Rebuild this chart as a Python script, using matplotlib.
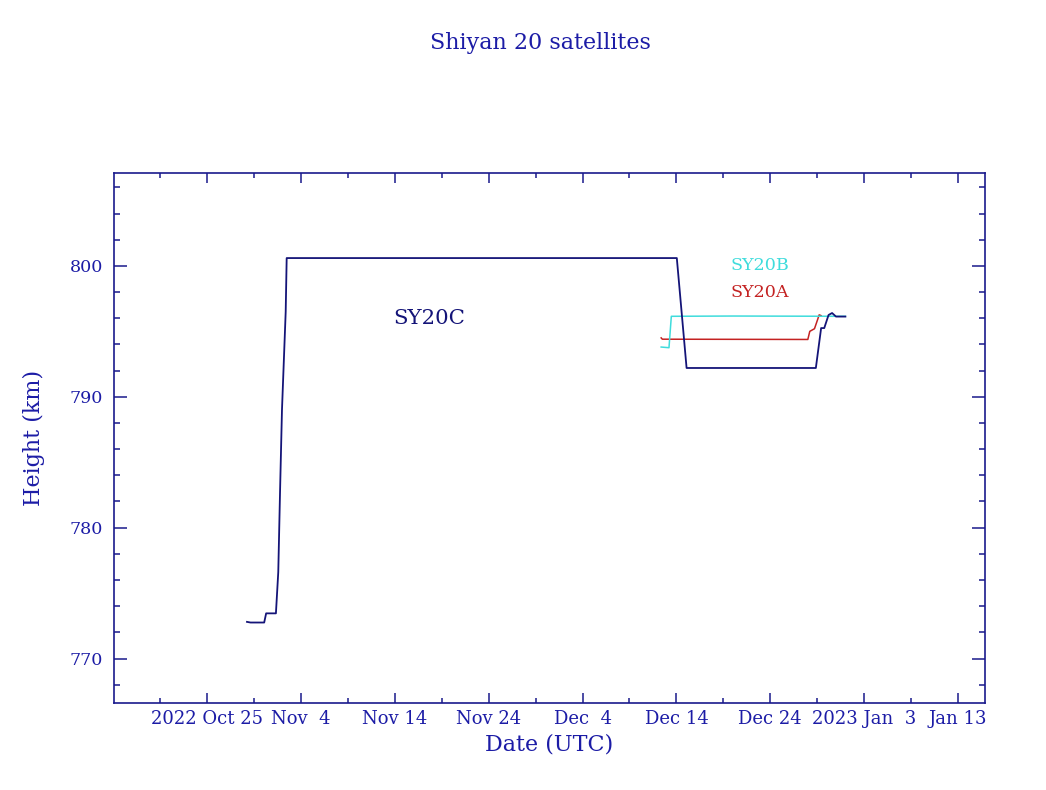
import matplotlib
matplotlib.use("Agg")
import matplotlib.pyplot as plt
import pandas as pd

# ---- data ----
sy20c_dates = ["2022-10-29 06:00", "2022-10-29 15:00", "2022-10-31 02:00", "2022-10-31 07:00",
               "2022-11-01 08:00", "2022-11-01 14:00", "2022-11-01 18:30", "2022-11-01 23:30",
               "2022-11-02 09:00", "2022-11-02 11:30", "2022-12-14 01:00", "2022-12-15 02:00",
               "2022-12-28 20:30", "2022-12-29 10:00", "2022-12-29 18:00", "2022-12-30 05:00",
               "2022-12-30 14:00", "2022-12-31 00:00", "2023-01-01 00:00"]
sy20c_h = [772.8, 772.75, 772.75, 773.45, 773.45, 776.6, 782.7, 789.0, 796.5, 800.6,
           800.6, 792.2, 792.2, 795.25, 795.25, 796.25, 796.4, 796.13, 796.13]

sy20b_dates = ["2022-12-12 09:00", "2022-12-13 05:00", "2022-12-13 11:00", "2022-12-20 00:00",
               "2023-01-01 00:00"]
sy20b_h = [793.8, 793.75, 796.15, 796.17, 796.15]

sy20a_dates = ["2022-12-12 09:00", "2022-12-12 12:00", "2022-12-28 00:00", "2022-12-28 05:00",
               "2022-12-28 17:00", "2022-12-29 01:00", "2022-12-29 05:00", "2022-12-29 10:00"]
sy20a_h = [794.5, 794.4, 794.38, 795.0, 795.2, 795.9, 796.26, 796.2]

tick_dates = ["2022-10-25", "2022-11-04", "2022-11-14", "2022-11-24", "2022-12-04",
              "2022-12-14", "2022-12-24", "2023-01-03", "2023-01-13"]
tick_labels = ["2022 Oct 25", "Nov  4", "Nov 14", "Nov 24", "Dec  4",
               "Dec 14", "Dec 24", "2023 Jan  3", "Jan 13"]
y_ticks = [770, 780, 790, 800]

# ---- style ----
axis_col = "#1a1a8c"
text_col = "#1c1ca6"
c_col = "#141478"
b_col = "#3fdcdc"
a_col = "#c42222"
font = "DejaVu Serif"

fig = plt.figure(figsize=(10.46, 7.9), dpi=100)
ax = fig.add_axes([114/1046, 1-703/790, (985-114)/1046, (703-173)/790])

ax.plot(pd.to_datetime(sy20a_dates), sy20a_h, color=a_col, lw=1.1)
ax.plot(pd.to_datetime(sy20b_dates), sy20b_h, color=b_col, lw=1.1)
ax.plot(pd.to_datetime(sy20c_dates), sy20c_h, color=c_col, lw=1.3)

ax.set_xlim(pd.Timestamp("2022-10-15 02:00"), pd.Timestamp("2023-01-15 21:00"))
ax.set_ylim(766.6, 807.1)

ax.set_xticks(pd.to_datetime(tick_dates))
ax.set_xticklabels(tick_labels, fontfamily=font, fontsize=13, color=text_col)
minor = pd.date_range("2022-10-20", "2023-01-15", freq="5D")
ax.set_xticks(minor, minor=True)
ax.set_yticks(y_ticks)
ax.set_yticklabels([str(v) for v in y_ticks], fontfamily=font, fontsize=12.6, color=text_col)
ax.set_yticks(range(768, 808, 2), minor=True)

ax.tick_params(which="both", direction="in", top=True, right=True, color=axis_col, width=1.1)
ax.tick_params(axis="x", which="major", length=7, pad=5)
ax.tick_params(axis="x", which="minor", length=3.5)
ax.tick_params(axis="y", which="major", length=9.5, pad=8)
ax.tick_params(axis="y", which="minor", length=4.5)
for s in ax.spines.values():
    s.set_color(axis_col)
    s.set_linewidth(1.2)

ax.set_xlabel("Date (UTC)", fontfamily=font, fontsize=16, color=text_col, labelpad=4)
ax.set_ylabel("Height (km)", fontfamily=font, fontsize=16, color=text_col, labelpad=18)

ax.text(pd.Timestamp("2022-11-17 17:00"), 795.95, "SY20C", fontfamily=font, fontsize=15.3,
        color=c_col, ha="center", va="center")
ax.text(pd.Timestamp("2022-12-22 22:00"), 800.0, "SY20B", fontfamily=font, fontsize=12.6,
        color=b_col, ha="center", va="center")
ax.text(pd.Timestamp("2022-12-22 22:00"), 798.0, "SY20A", fontfamily=font, fontsize=12.6,
        color=a_col, ha="center", va="center")

fig.text(540/1046, 1-43/790, "Shiyan 20 satellites", fontfamily=font, fontsize=16,
         color=text_col, ha="center", va="center")

fig.savefig("out.png", dpi=100)
